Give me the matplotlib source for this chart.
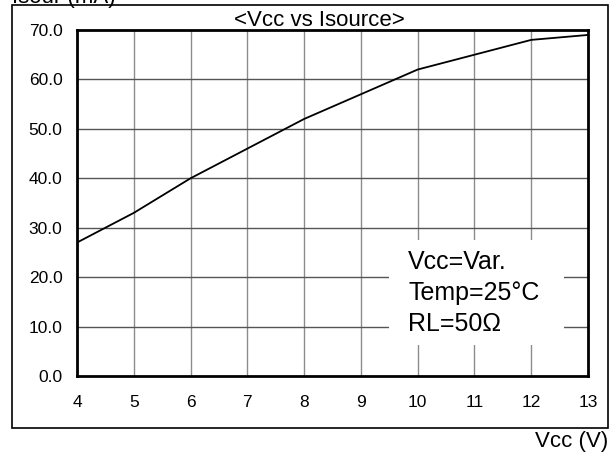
import matplotlib
matplotlib.use('Agg')
import matplotlib.pyplot as plt
from matplotlib.patches import Rectangle

# Vcc vs Isource curve
vcc = [4, 5, 6, 7, 8, 9, 10, 11, 12, 13]
isource = [27.0, 33.0, 40.0, 46.0, 52.0, 57.0, 62.0, 65.0, 68.0, 69.0]
y_ticks = [0, 10, 20, 30, 40, 50, 60, 70]
y_tick_labels = ['0.0', '10.0', '20.0', '30.0', '40.0', '50.0', '60.0', '70.0']
cond_lines = ['Vcc=Var.', 'Temp=25°C', 'RL=50Ω']

plt.rcParams['font.family'] = ['Liberation Sans', 'DejaVu Sans']

fig = plt.figure(figsize=(6.13, 4.53), dpi=100)
ax = fig.add_axes([77/613, 1 - 376/453, 511/613, 346/453])

ax.plot(vcc, isource, color='black', linewidth=1.3, zorder=3)

ax.set_xlim(4, 13)
ax.set_ylim(0, 70)
ax.set_xticks(vcc)
ax.set_yticks(y_ticks)
ax.set_yticklabels(y_tick_labels)
ax.tick_params(axis='both', length=0, labelsize=12.5)
ax.tick_params(axis='y', pad=10.5)
ax.tick_params(axis='x', pad=14)

# gridlines: verticals lighter than horizontals
for x in vcc[1:-1]:
    ax.axvline(x, color='#8c8c8c', linewidth=1, zorder=1)
for y in y_ticks[1:-1]:
    ax.axhline(y, color='#555555', linewidth=1, zorder=1)

for s in ax.spines.values():
    s.set_linewidth(2)
    s.set_zorder(4)

# condition box
ax.add_patch(Rectangle((0.611, 0.090), 0.342, 0.304, transform=ax.transAxes,
                       facecolor='white', edgecolor='none', zorder=2))
for i, line in enumerate(cond_lines):
    ax.text(0.648, 0.330 - i * 0.090, line, transform=ax.transAxes,
            fontsize=18, va='center', ha='left', zorder=3)

fig.text(319/613, 1 - 20/453, '<Vcc vs Isource>', fontsize=16,
         ha='center', va='center')
fig.text(12/613, 1 - 3/453, 'Isour (mA)', fontsize=16,
         ha='left', va='baseline')
fig.text(608/613, 1 - 441/453, 'Vcc (V)', fontsize=16,
         ha='right', va='center')

# outer frame
fig.patches.append(Rectangle((12/613, 1 - 428/453), 596/613, 423/453,
                             transform=fig.transFigure, fill=False,
                             edgecolor='black', linewidth=1.2))

fig.savefig('out.png', dpi=100)
